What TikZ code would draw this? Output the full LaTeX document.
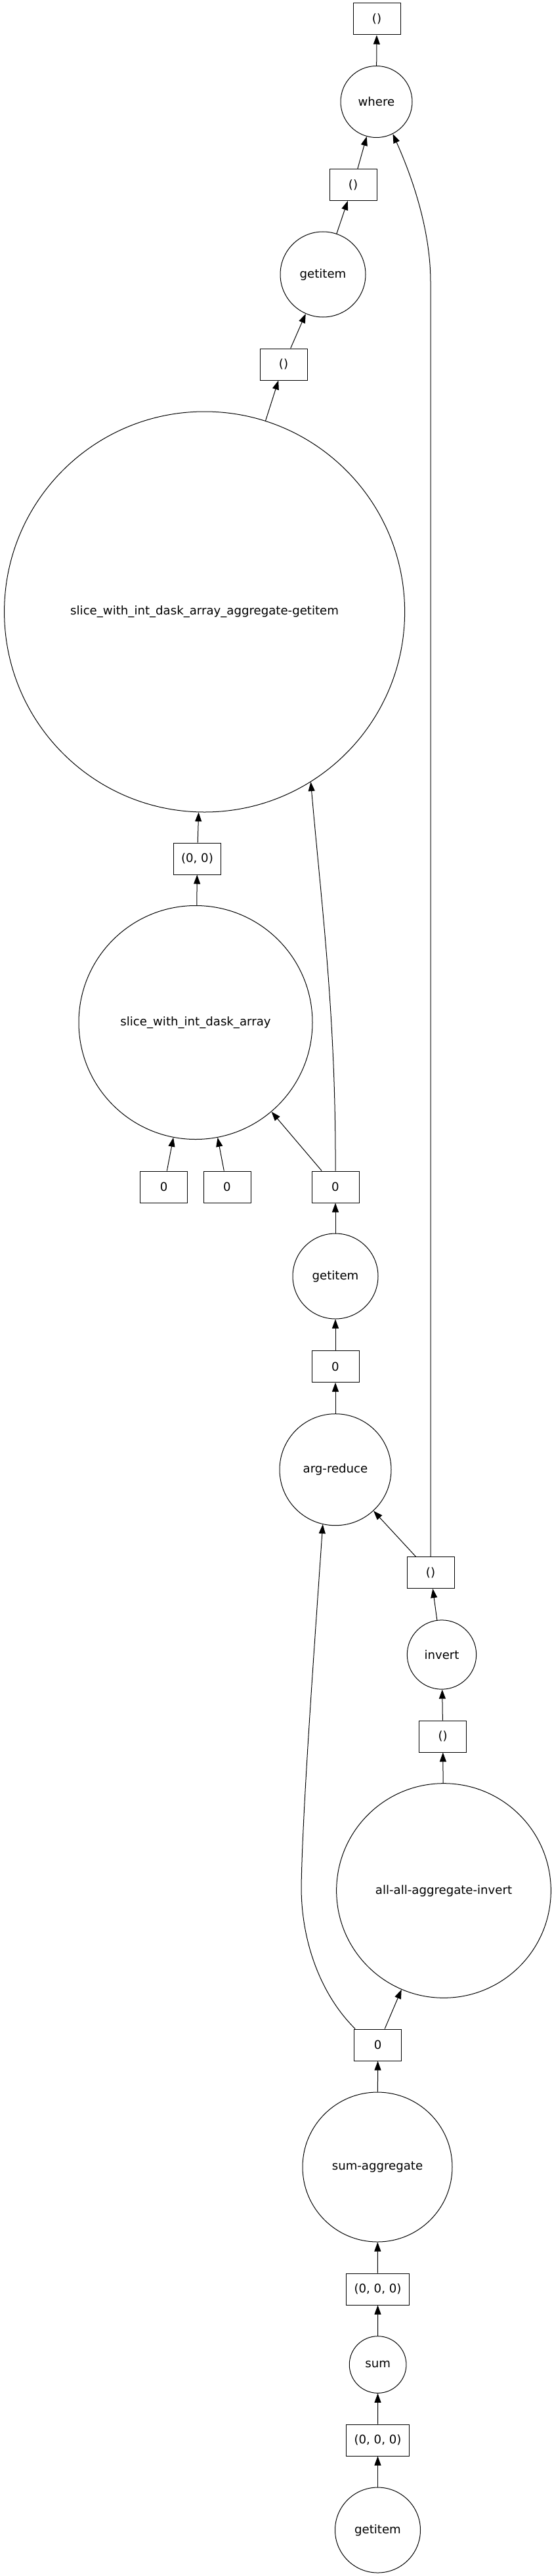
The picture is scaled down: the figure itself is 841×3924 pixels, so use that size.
\documentclass[tikz,border=0pt]{standalone}
\usepackage{fontspec}
\setmainfont{DejaVu Sans}
\usetikzlibrary{arrows.meta}
\begin{document}
\begin{tikzpicture}[x=0.75pt,y=-0.75pt,
  every node/.style={font=\fontsize{13.6}{16}\selectfont},
  circ/.style={circle,draw,line width=0.75pt,inner sep=0pt,minimum size=#1},
  bx/.style={rectangle,draw,line width=0.75pt,inner sep=0pt,minimum width=54pt,minimum height=36pt},
  wbx/.style={bx,minimum width=72pt},
  edge/.style={line width=0.75pt,-{Triangle[length=10.5pt,width=7.5pt]}}]
\useasboundingbox (0,0) rectangle (841,3924);

% circles
\node[circ=81.75pt] (where) at (573.5,155) {where};
\node[circ=97.5pt] (gi1) at (492,418) {getitem};
\node[circ=457.5pt] (sagg) at (311.6,932) {slice\_with\_int\_dask\_array\_aggregate-getitem};
\node[circ=267pt] (slice) at (298,1557.5) {slice\_with\_int\_dask\_array};
\node[circ=97.5pt] (gi2) at (511,1944) {getitem};
\node[circ=127.5pt] (argr) at (511,2238.7) {arg-reduce};
\node[circ=79pt] (inv) at (673,2520.5) {invert};
\node[circ=245pt] (allall) at (676,2880) {all-all-aggregate-invert};
\node[circ=171pt] (sumagg) at (575,3301) {sum-aggregate};
\node[circ=65pt] (sum) at (575.6,3602) {sum};
\node[circ=97.5pt] (gi3) at (575.5,3854) {getitem};

% boxes
\node[bx] (b1) at (574,29) {()};
\node[bx] (b2) at (538,281.5) {()};
\node[bx] (b3) at (432,555) {()};
\node[bx] (b4) at (300.5,1308) {(0, 0)};
\node[bx] (b5) at (249.6,1808) {0};
\node[bx] (b6) at (346,1808) {0};
\node[bx] (b7) at (511,1808) {0};
\node[bx] (b8) at (511,2081.5) {0};
\node[bx] (b9) at (656,2395.5) {()};
\node[bx] (b10) at (674.7,2645) {()};
\node[bx] (b11) at (575.7,3115) {0};
\node[wbx] (b12) at (575.5,3487) {(0, 0, 0)};
\node[wbx] (b13) at (575.5,3717) {(0, 0, 0)};

% straight edges
\draw[edge] (where) -- (b1);
\draw[edge] (b2) -- (where);
\draw[edge] (gi1) -- (b2);
\draw[edge] (b3) -- (gi1);
\draw[edge] (sagg) -- (b3);
\draw[edge] (b4) -- (sagg);
\draw[edge] (slice) -- (b4);
\draw[edge] (b5) -- (slice);
\draw[edge] (b6) -- (slice);
\draw[edge] (b7) -- (slice);
\draw[edge] (gi2) -- (b7);
\draw[edge] (b8) -- (gi2);
\draw[edge] (argr) -- (b8);
\draw[edge] (b9) -- (argr);
\draw[edge] (inv) -- (b9);
\draw[edge] (b10) -- (inv);
\draw[edge] (allall) -- (b10);
\draw[edge] (b11) -- (allall);
\draw[edge] (sumagg) -- (b11);
\draw[edge] (b12) -- (sumagg);
\draw[edge] (sum) -- (b12);
\draw[edge] (b13) -- (sum);
\draw[edge] (gi3) -- (b13);

% curved edges
\coordinate (c1) at (656,430);
\draw[edge] (b9.north) -- (c1) .. controls (656,350) and (628,270) .. (where.-63);
\draw[edge] (b7.north) .. controls (512,1550) and (490,1380) .. (sagg.-58);
\coordinate (c2) at (459,2874);
\draw[edge] ([xshift=1.5pt]b11.north west) .. controls (490,3040) and (459,2960) .. (c2)
  .. controls (461,2760) and (476,2550) .. (argr.-103);
\end{tikzpicture}
\end{document}
